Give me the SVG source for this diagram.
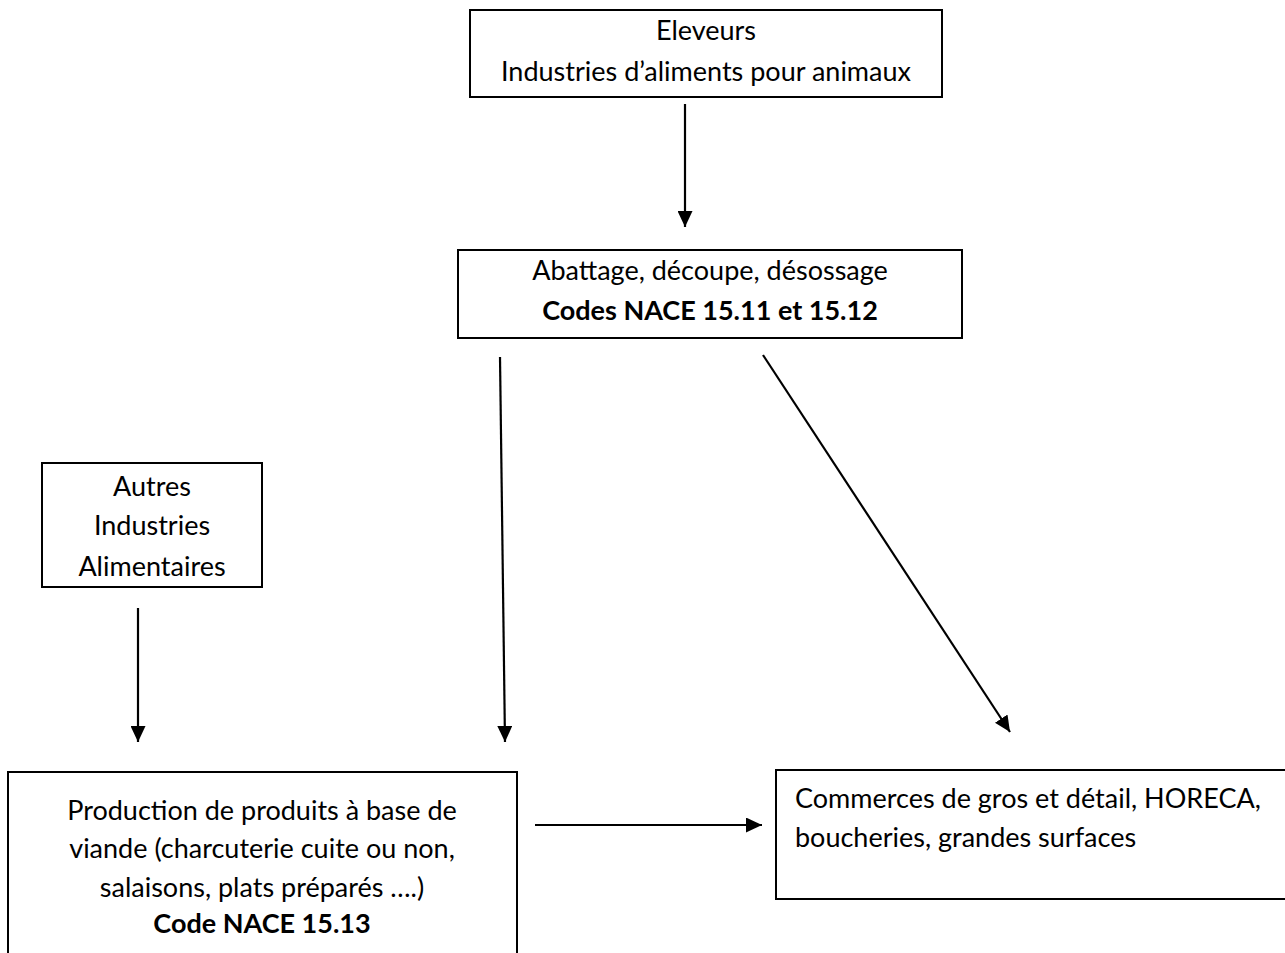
<svg xmlns="http://www.w3.org/2000/svg" width="1285" height="953" viewBox="0 0 1285 953">
<defs>
<marker id="ah" markerWidth="16" markerHeight="15" refX="16" refY="7.5" orient="auto" markerUnits="userSpaceOnUse">
<path d="M0,0 L16,7.5 L0,15 z" fill="#000"/>
</marker>
<style>
.box{fill:#fff;stroke:#000;stroke-width:2}
.t{font-family:Lato,"Liberation Sans",sans-serif;font-size:27px;fill:#000}
.c{text-anchor:middle}
.b{font-weight:bold}
.edge{stroke:#000;stroke-width:2.2;fill:none;marker-end:url(#ah)}
</style>
</defs>
<rect width="1285" height="953" fill="#fff"/>
<g id="n-eleveurs">
<rect class="box" x="470" y="10" width="472" height="87"/>
<text class="t c" x="706" y="40">Eleveurs</text>
<text class="t c" x="706" y="81">Industries d’aliments pour animaux</text>
</g>
<g id="n-abattage">
<rect class="box" x="458" y="250" width="504" height="88"/>
<text class="t c" x="710" y="280">Abattage, découpe, désossage</text>
<text class="t c b" x="710" y="320">Codes NACE 15.11 et 15.12</text>
</g>
<g id="n-autres">
<rect class="box" x="42" y="463" width="220" height="124"/>
<text class="t c" x="152" y="496">Autres</text>
<text class="t c" x="152" y="535">Industries</text>
<text class="t c" x="152" y="576">Alimentaires</text>
</g>
<g id="n-production">
<rect class="box" x="8" y="772" width="509" height="200"/>
<text class="t c" x="262" y="820">Production de produits à base de</text>
<text class="t c" x="262" y="858">viande (charcuterie cuite ou non,</text>
<text class="t c" x="262" y="897">salaisons, plats préparés ….)</text>
<text class="t c b" x="262" y="933">Code NACE 15.13</text>
</g>
<g id="n-commerces">
<rect class="box" x="776" y="770" width="520" height="129"/>
<text class="t" x="795" y="808">Commerces de gros et détail, HORECA,</text>
<text class="t" x="795" y="847">boucheries, grandes surfaces</text>
</g>
<g id="connectors">
<line class="edge" x1="685" y1="104" x2="685" y2="227"/>
<line class="edge" x1="138" y1="608" x2="138" y2="742"/>
<line class="edge" x1="500" y1="357" x2="505" y2="742"/>
<line class="edge" x1="763" y1="355" x2="1010" y2="732"/>
<line class="edge" x1="535" y1="825" x2="762" y2="825"/>
</g>
</svg>
